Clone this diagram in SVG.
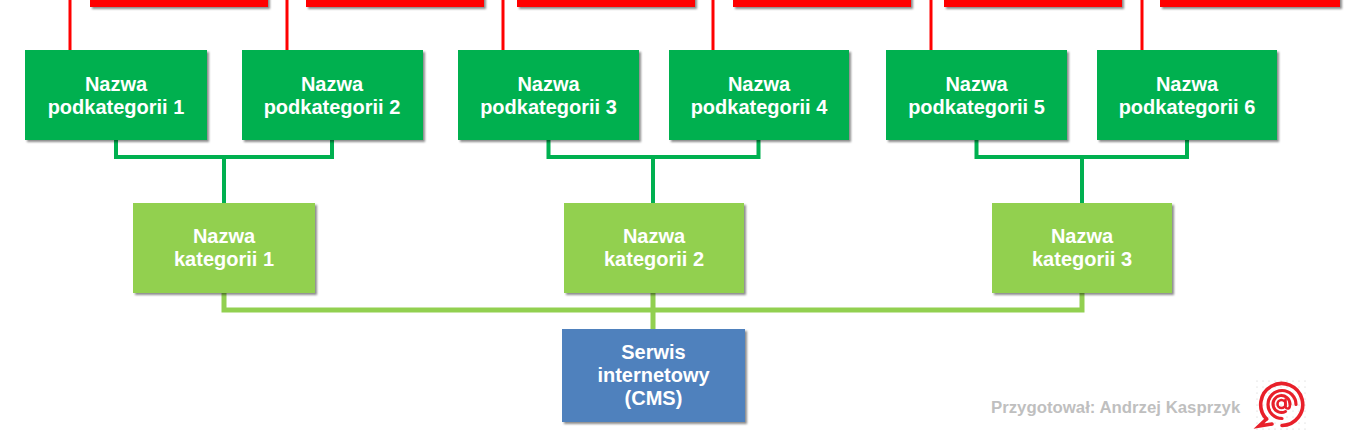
<svg xmlns="http://www.w3.org/2000/svg" width="1351" height="434" viewBox="0 0 1351 434">
<defs>
<filter id="sh" x="-10%" y="-10%" width="125%" height="130%">
<feDropShadow dx="2" dy="2" stdDeviation="1.3" flood-color="#000" flood-opacity="0.45"/>
</filter>
<pattern id="dots" width="6" height="6" patternUnits="userSpaceOnUse">
<circle cx="3" cy="3" r="0.6" fill="#c8c8c8"/>
</pattern>
<style>
.red{fill:#FF0000;filter:url(#sh)}
.sub{fill:#00B050;filter:url(#sh)}
.cat{fill:#92D050;filter:url(#sh)}
.cms{fill:#4F81BD;filter:url(#sh)}
.t{font-family:"Liberation Sans",Arial,sans-serif;font-weight:bold;font-size:20px;fill:#fff;text-anchor:middle}
.rl{stroke:#FF0000;stroke-width:3;fill:none}
.dg{stroke:#00B050;stroke-width:4;fill:none}
.lg{stroke:#92D050;stroke-width:5;fill:none}
.foot{font-family:"Liberation Sans",Arial,sans-serif;font-weight:bold;font-size:16.8px;fill:#BFBFBF}
.logo{stroke:#E8202A;fill:none;stroke-linecap:round}
</style>
</defs>
<rect width="1351" height="434" fill="#fff"/>
<g id="top-nodes">
<rect class="red" x="90" y="-60" width="178" height="67"/>
<rect class="red" x="306" y="-60" width="178" height="67"/>
<rect class="red" x="517" y="-60" width="178" height="67"/>
<rect class="red" x="733" y="-60" width="178" height="67"/>
<rect class="red" x="944" y="-60" width="178" height="67"/>
<rect class="red" x="1160" y="-60" width="180" height="67"/>
</g>
<g id="connectors">
<path class="rl" d="M70,0V50M287,0V50M503,0V50M713,0V50M931,0V50M1142,0V50"/>
<path class="dg" d="M116,140V157H332V140M224,157V203"/>
<path class="dg" d="M548.5,140V157H758.5V140M653,157V203"/>
<path class="dg" d="M976.5,140V157H1187V140M1082,157V203"/>
<path class="lg" d="M224,293V310H1082V293M653,293V329"/>
</g>
<g id="sub1"><rect class="sub" x="25" y="50" width="182" height="90"/><text class="t" x="116" y="91">Nazwa</text><text class="t" x="116" y="114">podkategorii 1</text></g>
<g id="sub2"><rect class="sub" x="242" y="50" width="181" height="90"/><text class="t" x="332" y="91">Nazwa</text><text class="t" x="332" y="114">podkategorii 2</text></g>
<g id="sub3"><rect class="sub" x="458" y="50" width="181" height="90"/><text class="t" x="548.5" y="91">Nazwa</text><text class="t" x="548.5" y="114">podkategorii 3</text></g>
<g id="sub4"><rect class="sub" x="669" y="50" width="180" height="90"/><text class="t" x="759" y="91">Nazwa</text><text class="t" x="759" y="114">podkategorii 4</text></g>
<g id="sub5"><rect class="sub" x="886" y="50" width="181" height="90"/><text class="t" x="976.5" y="91">Nazwa</text><text class="t" x="976.5" y="114">podkategorii 5</text></g>
<g id="sub6"><rect class="sub" x="1097" y="50" width="180" height="90"/><text class="t" x="1187" y="91">Nazwa</text><text class="t" x="1187" y="114">podkategorii 6</text></g>
<g id="cat1"><rect class="cat" x="133" y="203" width="182" height="90"/><text class="t" x="224" y="243">Nazwa</text><text class="t" x="224" y="266">kategorii 1</text></g>
<g id="cat2"><rect class="cat" x="564" y="203" width="180" height="90"/><text class="t" x="654" y="243">Nazwa</text><text class="t" x="654" y="266">kategorii 2</text></g>
<g id="cat3"><rect class="cat" x="992" y="203" width="180" height="90"/><text class="t" x="1082" y="243">Nazwa</text><text class="t" x="1082" y="266">kategorii 3</text></g>
<g id="cms"><rect class="cms" x="562" y="329" width="183" height="93"/><text class="t" x="653.5" y="359">Serwis</text><text class="t" x="653.5" y="382">internetowy</text><text class="t" x="653.5" y="405">(CMS)</text></g>
<text class="foot" x="991" y="413">Przygotował: Andrzej Kasprzyk</text>
<g id="logo">
<rect x="1254" y="378" width="54" height="54" fill="url(#dots)"/>
<path class="logo" stroke-width="3.6" d="M1266.5,419 A21,21 0 1 1 1282,425.5"/>
<path class="logo" stroke-width="3.6" d="M1266.5,419 L1259,426 L1272,424"/>
<path class="logo" stroke-width="3.2" d="M1282,418.5 A14,14 0 1 1 1296,404.5"/>
<path class="logo" stroke-width="3" d="M1290,404 A8.5,8.5 0 1 0 1285.5,411.5"/>
<circle class="logo" stroke-width="2.6" cx="1281.5" cy="404" r="4"/>
<path class="logo" stroke-width="2.6" d="M1285.5,399.5 V406 Q1285.5,409 1288.5,408.5 Q1290,408 1290,404"/>
</g>
</svg>
